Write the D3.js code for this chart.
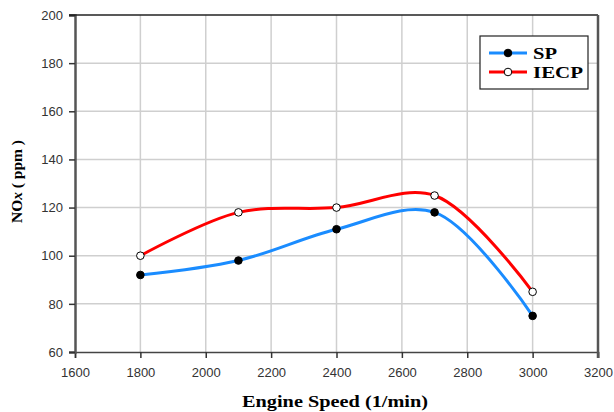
<!DOCTYPE html>
<html>
<head>
<meta charset="utf-8">
<script src="https://cdn.jsdelivr.net/npm/d3@7"></script>
<style>
  body { margin: 0; background: #fff; }
  .tick text { font-family: Arial, "Liberation Sans", sans-serif; font-size: 13px; fill: #333; }
</style>
</head>
<body>
<div id="chart"></div>
<script>
const speeds = [1800, 2100, 2400, 2700, 3000]
const spValues = [92, 98, 111, 118, 75]
const iecpValues = [100, 118, 120, 125, 85]
const xTicks = [1600, 1800, 2000, 2200, 2400, 2600, 2800, 3000, 3200]
const yTicks = [60, 80, 100, 120, 140, 160, 180, 200]

const W = 614, H = 412
const m = {left: 75, right: 16, top: 15, bottom: 60}
const serif = '"Liberation Serif", "Times New Roman", serif'

const svg = d3.select('#chart').append('svg')
              .attr('width', W)
              .attr('height', H)

const x = d3.scaleLinear().domain([1600, 3200]).range([m.left, W - m.right])
const y = d3.scaleLinear().domain([60, 200]).range([H - m.bottom, m.top])

// grid
svg.append('g')
   .selectAll('line')
   .data(xTicks.slice(1, -1))
   .enter().append('line')
   .attr('x1', d => x(d)).attr('x2', d => x(d))
   .attr('y1', y(200)).attr('y2', y(60))
   .attr('stroke', '#cfcfcf').attr('stroke-width', 1.5)
svg.append('g')
   .selectAll('line')
   .data(yTicks.slice(1, -1))
   .enter().append('line')
   .attr('x1', x(1600)).attr('x2', x(3200))
   .attr('y1', d => y(d)).attr('y2', d => y(d))
   .attr('stroke', '#cfcfcf').attr('stroke-width', 1.5)

// axes
const xAxis = svg.append('g')
   .attr('transform', `translate(0,${y(60)})`)
   .call(d3.axisBottom(x).tickValues(xTicks).tickSize(6).tickPadding(10).tickFormat(d3.format('d')))
const yAxis = svg.append('g')
   .attr('transform', `translate(${x(1600)},0)`)
   .call(d3.axisLeft(y).tickValues(yTicks).tickSize(6).tickPadding(6))
xAxis.select('.domain').attr('stroke', '#444').attr('stroke-width', 1.5)
yAxis.select('.domain').attr('stroke', '#555').attr('stroke-width', 2.5)
svg.selectAll('.tick line').attr('stroke', '#333').attr('stroke-width', 1.5)

// frame top / right
svg.append('line')
   .attr('x1', x(1600) - 6).attr('x2', x(3200))
   .attr('y1', y(200)).attr('y2', y(200))
   .attr('stroke', '#222').attr('stroke-width', 1.5)
svg.append('line')
   .attr('x1', x(3200)).attr('x2', x(3200))
   .attr('y1', y(200)).attr('y2', y(60) + 6)
   .attr('stroke', '#555').attr('stroke-width', 2.5)

// lines
const line = d3.line()
   .x(d => x(d[0]))
   .y(d => y(d[1]))
   .curve(d3.curveCatmullRom.alpha(0.5))

const series = [
  {name: 'SP', values: spValues, color: '#1a8cff', fill: '#000', w: 24},
  {name: 'IECP', values: iecpValues, color: '#ff0000', fill: '#fff', w: 50}
]

series.forEach(s => {
  const pts = speeds.map((v, i) => [v, s.values[i]])
  svg.append('path')
     .attr('d', line(pts))
     .attr('fill', 'none')
     .attr('stroke', s.color)
     .attr('stroke-width', 3)
  svg.append('g')
     .selectAll('circle')
     .data(pts)
     .enter().append('circle')
     .attr('cx', d => x(d[0]))
     .attr('cy', d => y(d[1]))
     .attr('r', 3.8)
     .attr('fill', s.fill)
     .attr('stroke', '#000')
     .attr('stroke-width', 1)
})

// legend
const lg = svg.append('g').attr('transform', 'translate(480,36)')
lg.append('rect')
  .attr('width', 108).attr('height', 53)
  .attr('fill', '#fff').attr('stroke', '#222').attr('stroke-width', 1.2)
series.forEach((s, i) => {
  const yy = 17 + i * 19
  lg.append('line')
    .attr('x1', 9).attr('x2', 47).attr('y1', yy).attr('y2', yy)
    .attr('stroke', s.color).attr('stroke-width', 3)
  lg.append('circle')
    .attr('cx', 28).attr('cy', yy).attr('r', 3.8)
    .attr('fill', s.fill).attr('stroke', '#000').attr('stroke-width', 1)
  lg.append('text')
    .attr('x', 53).attr('y', yy + 6)
    .attr('font-family', serif)
    .attr('font-weight', 'bold').attr('font-size', 17)
    .attr('textLength', s.w).attr('lengthAdjust', 'spacingAndGlyphs')
    .text(s.name)
})

// axis titles
svg.append('text')
   .attr('x', 242).attr('y', 407)
   .attr('font-family', serif)
   .attr('font-weight', 'bold').attr('font-size', 17)
   .attr('textLength', 186).attr('lengthAdjust', 'spacingAndGlyphs')
   .text('Engine Speed (1/min)')

const yt = svg.append('text')
   .attr('transform', 'translate(22,223) rotate(-90)')
   .attr('font-family', serif)
   .attr('font-weight', 'bold').attr('font-size', 15)
   .attr('textLength', 83).attr('lengthAdjust', 'spacingAndGlyphs')
yt.append('tspan').text('NO')
yt.append('tspan').attr('font-style', 'italic').text('x')
yt.append('tspan').text(' ( ppm )')
</script>
</body>
</html>
